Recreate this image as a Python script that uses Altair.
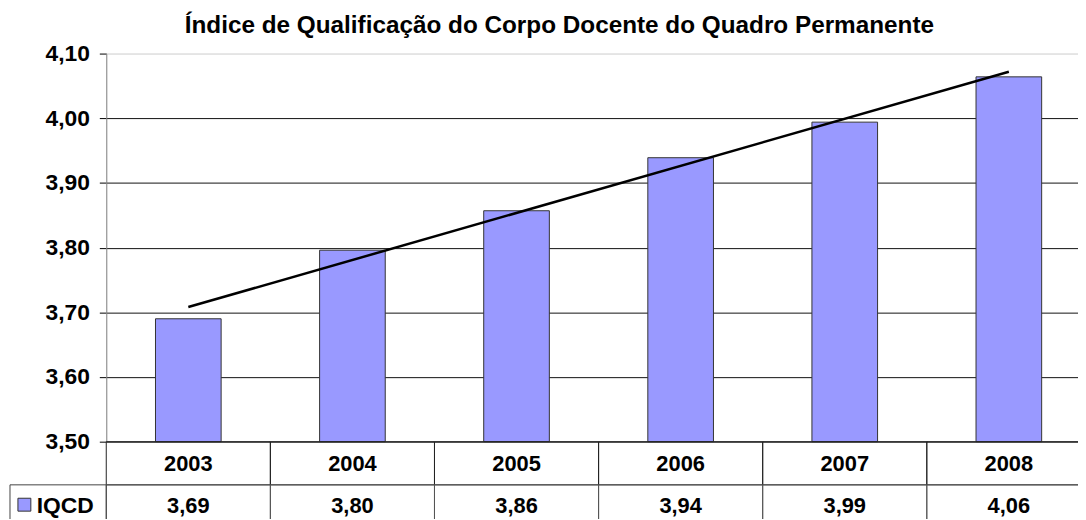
import altair as alt
import pandas as pd

# ---- data ----
title_text = "Índice de Qualificação do Corpo Docente do Quadro Permanente"
years = ["2003", "2004", "2005", "2006", "2007", "2008"]
year_nums = [2003, 2004, 2005, 2006, 2007, 2008]
iqcd = [3.690, 3.796, 3.857, 3.939, 3.994, 4.064]
series_name = "IQCD"
y_ticks = [3.5, 3.6, 3.7, 3.8, 3.9, 4.0, 4.1]

df = pd.DataFrame({"year": years, "year_num": year_nums, "value": iqcd})

FONT = "Liberation Sans"
BAR_FILL = "#9999FF"
W, H = 979, 391
SPAN = 992

x_scale = alt.Scale(domain=years, range=[0, SPAN], paddingInner=0.6, paddingOuter=0.3)
cell_scale = alt.Scale(domain=years, range=[0, SPAN], paddingInner=0, paddingOuter=0)
y_scale = alt.Scale(domain=[3.5, 4.1], nice=False, zero=False)

base = alt.Chart(df)

bars = base.mark_bar(fill=BAR_FILL, stroke="#333333", strokeWidth=1).encode(
    x=alt.X("year:N", scale=x_scale, axis=None),
    y=alt.Y(
        "value:Q",
        scale=y_scale,
        axis=alt.Axis(
            values=y_ticks,
            labelExpr="replace(format(datum.value, '.2f'), '.', ',')",
            labelFont=FONT,
            labelFontSize=23,
            labelFontWeight="bold",
            labelColor="black",
            labelPadding=10,
            tickSize=7,
            tickColor="black",
            domainColor="#888888",
            grid=True,
            gridColor={
                "condition": {"test": "abs(datum.value - 4.1) < 0.001", "value": "#dddddd"},
                "value": "#111111",
            },
            gridWidth=1,
            title=None,
        ),
    ),
    y2=alt.Y2(datum=3.5),
)

trend = (
    base.transform_regression("year_num", "value", method="linear")
    .transform_calculate(year="toString(datum.year_num)")
    .mark_line(color="black", strokeWidth=2.5)
    .encode(x=alt.X("year:N", scale=x_scale, axis=None), y=alt.Y("value:Q", scale=y_scale))
)

# ---- data table under the plot ----
ROW1_Y = 414
ROW_SPLIT = 434.5
ROW2_Y = 456
BOTTOM = 500

row1_cells = base.mark_rect(fill="white", fillOpacity=0, stroke="#222222", strokeWidth=1).encode(
    x=alt.X("year:N", scale=cell_scale, axis=None),
    y=alt.value(H),
    y2=alt.value(ROW_SPLIT),
)
row2_cells = base.mark_rect(fill="white", fillOpacity=0, stroke="#555555", strokeWidth=1).encode(
    x=alt.X("year:N", scale=cell_scale, axis=None),
    y=alt.value(ROW_SPLIT),
    y2=alt.value(BOTTOM),
)

year_text = base.mark_text(
    font=FONT, fontSize=22, fontWeight="bold", color="black", baseline="middle"
).encode(x=alt.X("year:N", scale=cell_scale, axis=None), y=alt.value(ROW1_Y), text="year:N")

value_text = base.transform_calculate(
    label="replace(format(datum.value, '.2f'), '.', ',')"
).mark_text(
    font=FONT, fontSize=22, fontWeight="bold", color="black", baseline="middle"
).encode(x=alt.X("year:N", scale=cell_scale, axis=None), y=alt.value(ROW2_Y), text="label:N")

legend_df = alt.Data(values=[{"series": series_name}])
legend_cell = alt.Chart(legend_df).mark_rect(fill="white", fillOpacity=0, stroke="#444444", strokeWidth=1).encode(
    x=alt.value(-97), x2=alt.value(0), y=alt.value(ROW_SPLIT), y2=alt.value(BOTTOM)
)
swatch = alt.Chart(legend_df).mark_rect(fill=BAR_FILL, stroke="#333333", strokeWidth=1).encode(
    x=alt.value(-89), x2=alt.value(-76), y=alt.value(448), y2=alt.value(461)
)
legend_text = alt.Chart(legend_df).mark_text(
    font=FONT, fontSize=23, fontWeight="bold", color="black", align="left", baseline="middle"
).encode(x=alt.value(-70), y=alt.value(ROW2_Y), text="series:N")

plot = alt.layer(bars, trend).resolve_scale(x="shared")
table = alt.layer(row1_cells, row2_cells, year_text, value_text).resolve_scale(x="shared")

chart = (
    alt.layer(plot, table, legend_cell, swatch, legend_text)
    .resolve_scale(x="independent")
    .properties(
        width=W,
        height=H,
        autosize=alt.AutoSizeParams(type="none"),
        padding={"left": 99, "top": 44, "right": 0, "bottom": 76},
        title=alt.TitleParams(
            text=title_text,
            font=FONT,
            fontSize=24.5,
            fontWeight="bold",
            color="black",
            anchor="middle",
            frame="group",
            dx=-33,
            offset=4,
        ),
    )
    .configure_view(stroke=None)
    .configure(background="white")
)

chart.save("out.html", embed_options={"renderer": "svg", "actions": False})
